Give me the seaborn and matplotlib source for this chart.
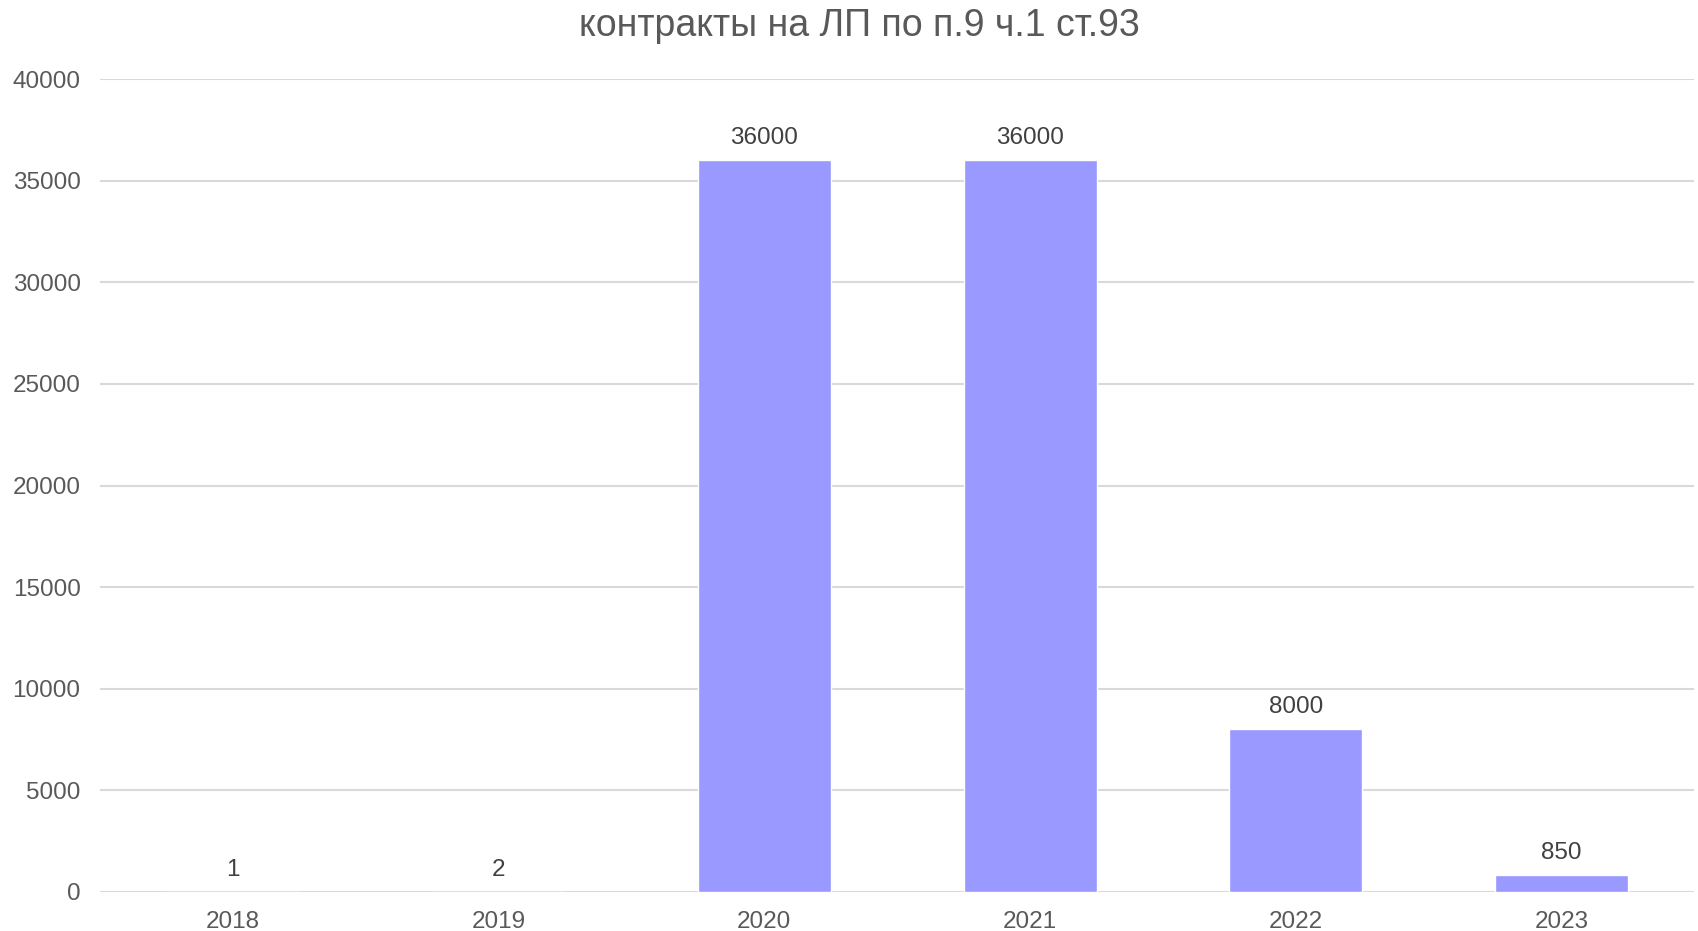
import matplotlib
matplotlib.use("Agg")
import matplotlib.pyplot as plt
import seaborn as sns
import pandas as pd

years = ["2018", "2019", "2020", "2021", "2022", "2023"]
values = [1, 2, 36000, 36000, 8000, 850]
title = "контракты на ЛП по п.9 ч.1 ст.93"
yticks = [0, 5000, 10000, 15000, 20000, 25000, 30000, 35000, 40000]

sns.set_theme(style="white")
plt.rcParams["font.family"] = ["Liberation Sans", "DejaVu Sans"]

text_color = "#595959"
bar_color = "#9999ff"

df = pd.DataFrame({"year": years, "value": values})

fig = plt.figure(figsize=(16.98, 9.31), dpi=100)
ax = fig.add_axes([0.0589, 0.042, 0.939, 0.873])

sns.barplot(data=df, x="year", y="value", color=bar_color, saturation=1,
            width=0.5, ax=ax, zorder=3)

ax.set_xlim(-0.5, len(years) - 0.5)
ax.set_ylim(0, 40000)
ax.set_yticks(yticks)
ax.set_yticklabels([str(t) for t in yticks])
ax.yaxis.grid(True, color="#d9d9d9", linewidth=1.5, zorder=0)
ax.xaxis.grid(False)
for s in ax.spines.values():
    s.set_visible(False)
ax.tick_params(axis="both", length=0, labelsize=17.5, colors=text_color)
ax.tick_params(axis="y", pad=14)
ax.tick_params(axis="x", pad=13.5)
ax.set_xlabel("")
ax.set_ylabel("")

for container in ax.containers:
    ax.bar_label(container, labels=[str(v) for v in values], padding=8,
                 fontsize=17.5, color="#404040")

fig.text(0.506, 0.972, title, ha="center", va="center", fontsize=27,
         color=text_color)

fig.savefig("out.png", dpi=100)
